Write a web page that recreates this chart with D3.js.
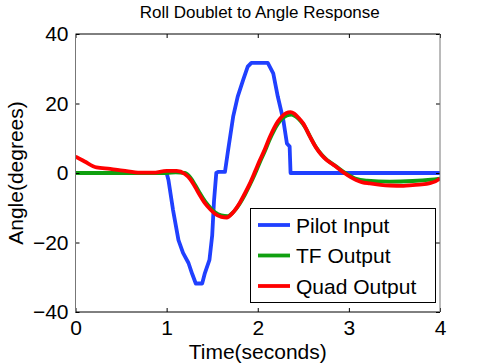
<!DOCTYPE html>
<meta charset="utf-8">
<script src="https://d3js.org/d3.v7.min.js"></script>
<style>
  body { margin: 0; background: #fff; }
  text { font-family: "Liberation Sans", Arial, sans-serif; fill: #000; }
</style>
<svg id="chart" width="485" height="364"></svg>
<script>
  // data
  var pilotT = [0, 1.0, 1.02, 1.07, 1.13, 1.18, 1.24, 1.28, 1.32, 1.39, 1.42, 1.47, 1.50, 1.52, 1.545, 1.565, 1.64, 1.675, 1.73, 1.78, 1.84, 1.89, 1.93, 2.11, 2.17, 2.22, 2.28, 2.32, 2.35, 2.36, 4.0];
  var pilotV = [0, 0, -2, -10.6, -19.3, -23, -25.9, -29, -31.8, -31.8, -28.8, -25, -18, -8, 0, 0.3, 0.3, 6.6, 16.2, 22, 26.8, 30.6, 31.7, 31.7, 28.7, 22, 15.3, 8.5, 7.6, 0, 0];

  var tfT = [0, 1.0, 1.1, 1.2, 1.26, 1.31, 1.36, 1.42, 1.48, 1.53, 1.6, 1.67, 1.73, 1.80, 1.86, 1.91, 1.97, 2.02, 2.08, 2.13, 2.18, 2.22, 2.27, 2.32, 2.37, 2.42, 2.47, 2.52, 2.58, 2.64, 2.70, 2.75, 2.80, 2.86, 2.95, 3.02, 3.08, 3.2, 3.45, 3.7, 3.9, 4.0];
  var tfV = [0, 0, 0.2, 0, -1.3, -3.3, -5.6, -8.1, -10.0, -11.3, -12.2, -12.4, -11.3, -8.9, -6.2, -3.6, -0.2, 2.9, 6.4, 9.6, 12.3, 14.1, 15.7, 16.6, 16.8, 16.2, 15.0, 13.2, 10.2, 7.4, 5.3, 4.0, 3.0, 1.9, 0.2, -0.9, -1.7, -2.2, -2.5, -2.3, -1.9, -1.6];

  var quadT = [0, 0.1, 0.23, 0.38, 0.52, 0.71, 0.85, 1.0, 1.11, 1.2, 1.26, 1.31, 1.36, 1.42, 1.48, 1.53, 1.6, 1.66, 1.72, 1.80, 1.86, 1.91, 1.97, 2.02, 2.08, 2.13, 2.18, 2.22, 2.27, 2.31, 2.36, 2.40, 2.45, 2.5, 2.57, 2.64, 2.70, 2.75, 2.80, 2.86, 2.95, 3.02, 3.08, 3.15, 3.23, 3.35, 3.45, 3.6, 3.7, 3.8, 3.89, 3.95, 4.0];
  var quadV = [4.7, 3.3, 1.6, 1.2, 0.7, 0.1, 0.1, 0.6, 0.6, -0.3, -1.8, -3.9, -6.2, -8.7, -10.5, -11.7, -12.6, -12.8, -11.6, -8.7, -5.8, -3.2, 0.4, 3.5, 7.0, 10.2, 13.0, 14.8, 16.4, 17.2, 17.5, 17.1, 15.8, 14.2, 10.6, 7.3, 5.2, 3.9, 2.9, 1.8, 0, -1.2, -2.0, -2.7, -3.0, -3.4, -3.6, -3.7, -3.5, -3.3, -2.9, -2.4, -1.6];

  var xTicks = [0, 1, 2, 3, 4];
  var yTicks = [-40, -20, 0, 20, 40];
  var seriesNames = ["Pilot Input", "TF Output", "Quad Output"];
  var seriesColors = ["#2040ff", "#10a010", "#ff0000"];

  var svg = d3.select("#chart");
  var plotL = 75.5, plotR = 440, plotT = 34, plotB = 312;

  var x = d3.scaleLinear().domain([0, 4]).range([plotL, plotR]);
  var y = d3.scaleLinear().domain([-40, 40]).range([plotB, plotT]);

  // title
  svg.append("text")
    .attr("x", (plotL + plotR) / 2 + 2)
    .attr("y", 18)
    .attr("text-anchor", "middle")
    .style("font-size", "17px")
    .text("Roll Doublet to Angle Response");

  // lines
  function zip(ts, vs) { return ts.map(function (t, i) { return [t, vs[i]]; }); }
  var series = [zip(pilotT, pilotV), zip(tfT, tfV), zip(quadT, quadV)];

  var straight = d3.line().x(function (d) { return x(d[0]); }).y(function (d) { return y(d[1]); });
  var smooth = d3.line().curve(d3.curveMonotoneX).x(function (d) { return x(d[0]); }).y(function (d) { return y(d[1]); });

  svg.append("defs").append("clipPath").attr("id", "clip")
    .append("rect").attr("x", plotL).attr("y", plotT).attr("width", plotR - plotL).attr("height", plotB - plotT);

  var g = svg.append("g").attr("clip-path", "url(#clip)");
  series.forEach(function (s, i) {
    g.append("path")
      .attr("d", i === 0 ? straight(s) : smooth(s))
      .attr("fill", "none")
      .attr("stroke", seriesColors[i])
      .attr("stroke-width", 3.8)
      .attr("stroke-linejoin", "round");
  });

  // axes box with inward ticks
  var axisStyle = function (sel) {
    sel.select(".domain").remove();
    sel.selectAll("line").attr("stroke", "#000");
    sel.selectAll("text").style("font-size", "21px").attr("fill", "#000");
  };
  svg.append("g").attr("transform", "translate(0," + plotB + ")")
    .call(d3.axisBottom(x).tickValues(xTicks).tickSize(-4).tickPadding(8).tickFormat(d3.format("d")))
    .call(axisStyle);
  svg.append("g").attr("transform", "translate(0," + plotT + ")")
    .call(d3.axisTop(x).tickValues(xTicks).tickSize(-4).tickFormat(""))
    .call(axisStyle);
  svg.append("g").attr("transform", "translate(" + plotL + ",0)")
    .call(d3.axisLeft(y).tickValues(yTicks).tickSize(-4).tickPadding(7).tickFormat(function (d) { return d < 0 ? "\u2212" + (-d) : d; }))
    .call(axisStyle);
  svg.append("g").attr("transform", "translate(" + plotR + ",0)")
    .call(d3.axisRight(y).tickValues(yTicks).tickSize(-4).tickFormat(""))
    .call(axisStyle);

  svg.append("line").attr("x1", plotL).attr("x2", plotR).attr("y1", plotT).attr("y2", plotT).attr("stroke", "#000");
  svg.append("line").attr("x1", plotL).attr("x2", plotR).attr("y1", plotB).attr("y2", plotB).attr("stroke", "#000");
  svg.append("line").attr("x1", plotL).attr("x2", plotL).attr("y1", plotT).attr("y2", plotB).attr("stroke", "#777");
  svg.append("line").attr("x1", plotR).attr("x2", plotR).attr("y1", plotT).attr("y2", plotB).attr("stroke", "#777");

  // axis labels
  svg.append("text")
    .attr("x", (plotL + plotR) / 2)
    .attr("y", 359)
    .attr("text-anchor", "middle")
    .style("font-size", "21px")
    .text("Time(seconds)");
  svg.append("text")
    .attr("transform", "translate(23," + ((plotT + plotB) / 2) + ") rotate(-90)")
    .attr("text-anchor", "middle")
    .style("font-size", "21px")
    .text("Angle(degrees)");

  // legend
  var lg = svg.append("g");
  lg.append("rect")
    .attr("x", 250.5).attr("y", 208.5).attr("width", 185).attr("height", 94)
    .attr("fill", "#fff").attr("stroke", "#000");
  seriesNames.forEach(function (name, i) {
    var cy = 225 + i * 30.5;
    lg.append("line")
      .attr("x1", 258).attr("x2", 290).attr("y1", cy).attr("y2", cy)
      .attr("stroke", seriesColors[i]).attr("stroke-width", 3.8);
    lg.append("text")
      .attr("x", 296).attr("y", cy + 7.5)
      .style("font-size", "21px")
      .text(name);
  });
</script>
